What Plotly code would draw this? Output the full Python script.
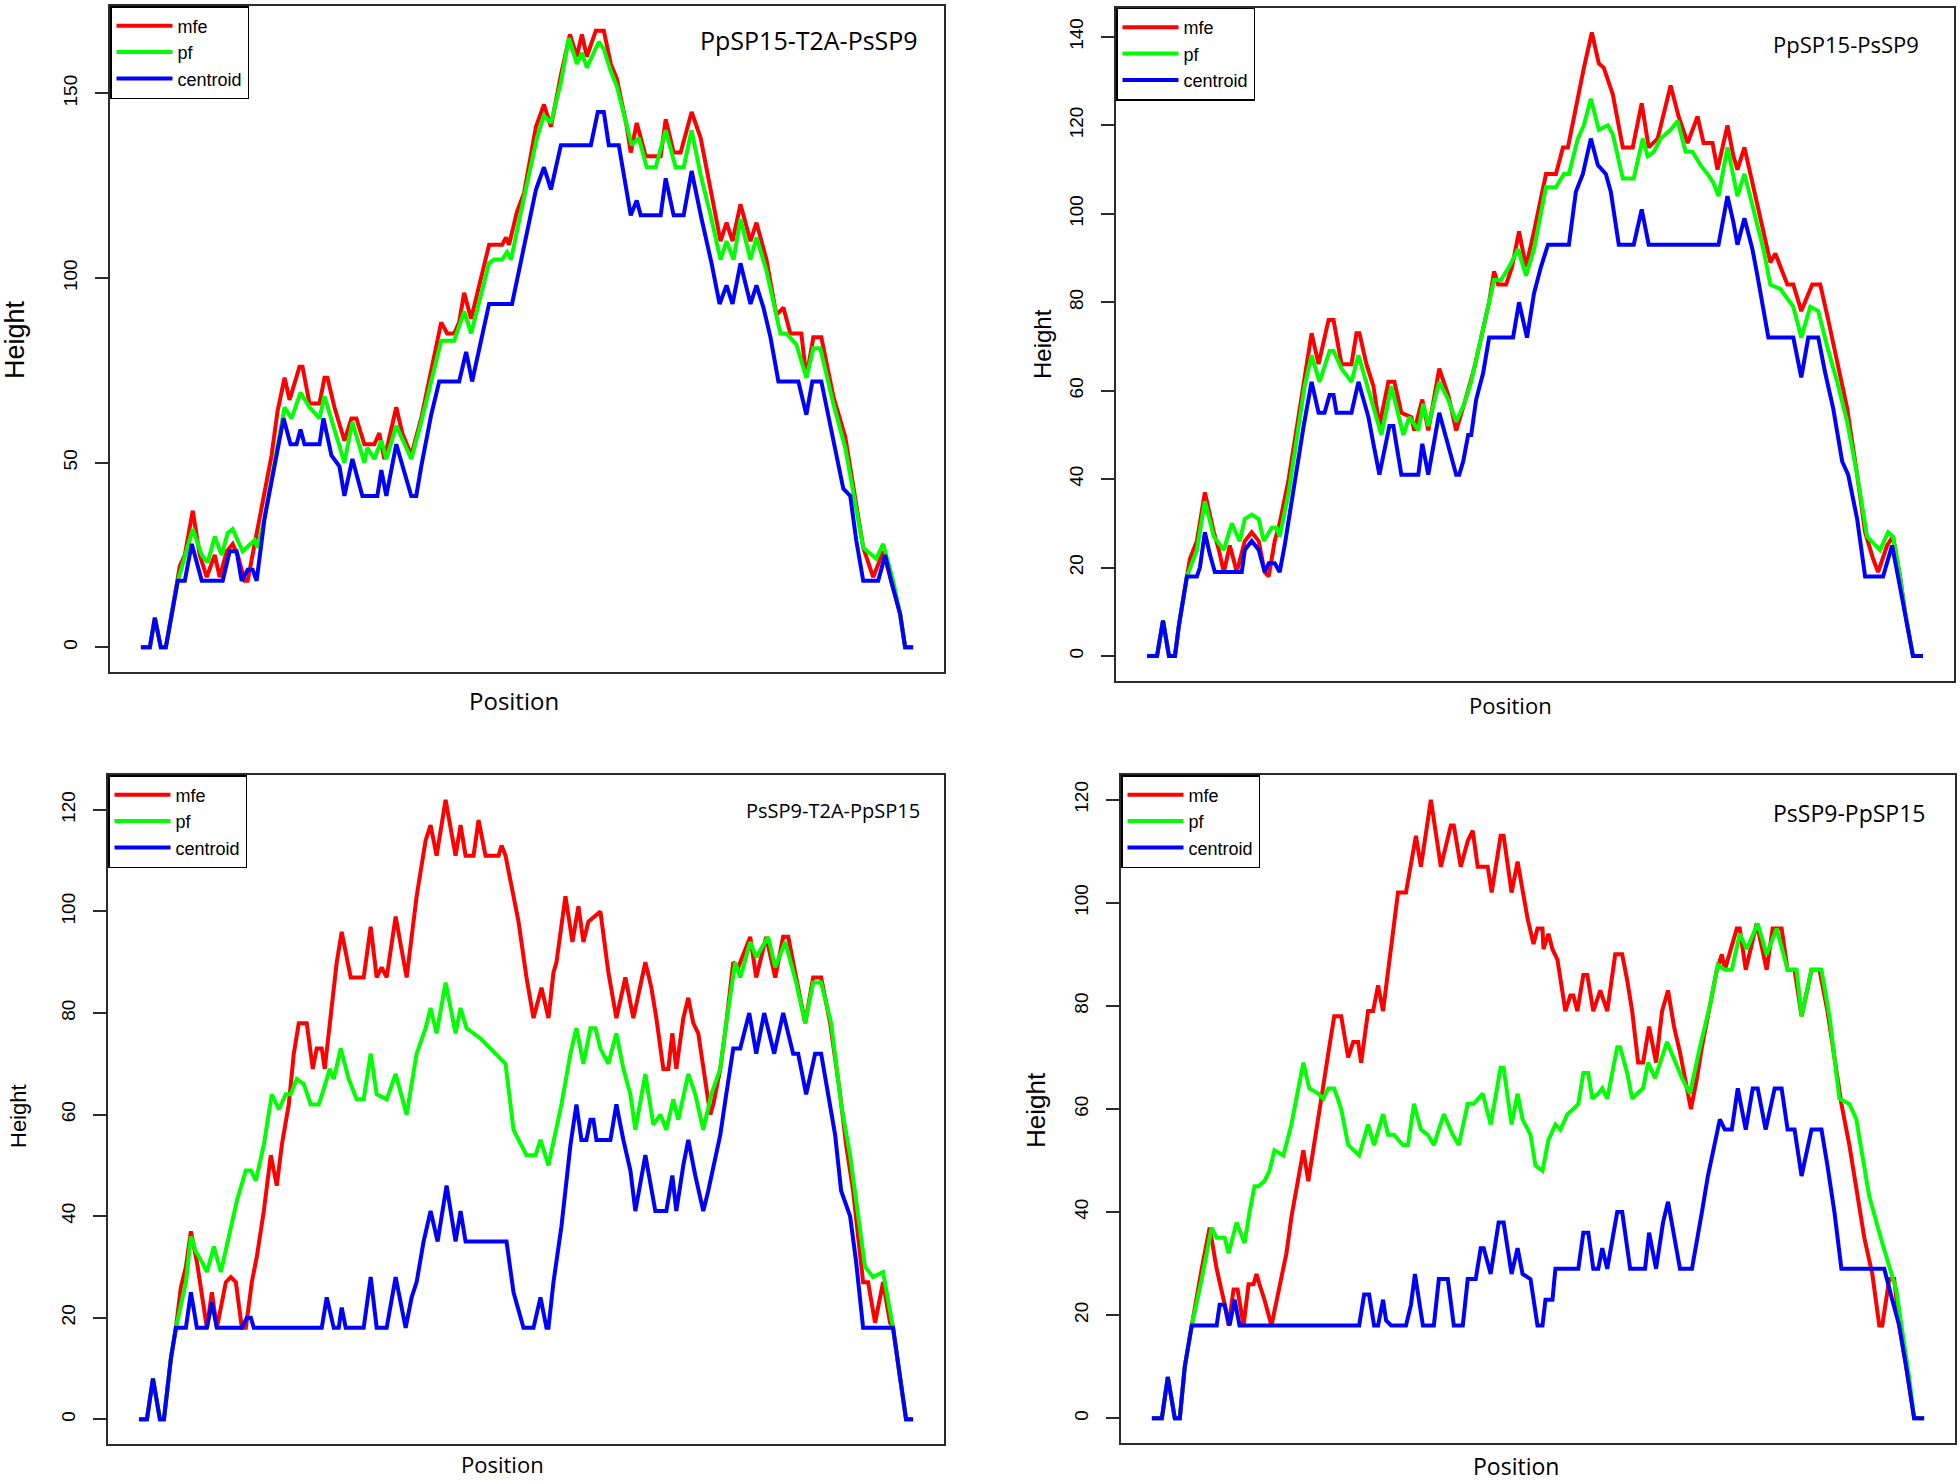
import plotly.graph_objects as go

# ---------------- data (position, height) ----------------
series_names = ["mfe", "pf", "centroid"]
series_colors = ["#ff0000", "#00ff00", "#0000ff"]

panel_titles = ["PpSP15-T2A-PsSP9", "PpSP15-PsSP9", "PsSP9-T2A-PpSP15", "PsSP9-PpSP15"]

p1_mfe = [(0,0),(9,0),(14,8),(20,0),(25,0),(37,18),(39,22),(44,25),(52,37),(59,25),(66,19),(74,25),(79,19),(86,26),(92,28),(97,25),(104,18),(107,18),(112,25),(121,37),(131,52),(137,64),(144,73),(149,67),(159,76),(162,76),(169,66),(179,66),(184,73),(187,73),(194,65),(204,56),(211,62),(216,62),(224,55),(234,55),(239,58),(244,51),(256,65),(262,58),(271,52),(281,62),(291,75),(301,88),(307,85),(314,85),(319,88),(324,96),(331,89),(341,100),(349,109),(362,109),(366,111),(369,109),(377,118),(384,123),(396,141),(404,147),(411,141),(421,155),(430,166),(437,160),(442,166),(447,160),(456,167),(464,167),(471,158),(477,154),(487,141),(491,134),(497,142),(506,133),(521,133),(526,143),(534,134),(541,134),(552,145),(561,138),(571,124),(581,110),(587,115),(593,110),(601,120),(611,110),(617,115),(627,105),(637,90),(644,92),(651,85),(662,85),(667,73),(674,84),(682,84),(694,68),(706,57),(714,44),(724,27),(734,19),(744,26),(752,18),(761,9),(766,0),(774,0)]
p1_pf = [(0,0),(9,0),(14,8),(20,0),(25,0),(37,18),(52,32),(61,25),(67,23),(74,30),(81,25),(87,31),(92,32),(102,26),(114,29),(117,27),(124,35),(134,50),(144,65),(151,62),(160,69),(169,65),(179,62),(184,68),(194,59),(204,50),(212,61),(224,50),(227,54),(234,51),(241,56),(246,51),(256,60),(264,55),(271,51),(281,61),(291,72),(301,83),(314,83),(324,91),(331,85),(341,95),(349,104),(354,105),(362,105),(367,107),(371,105),(381,118),(391,131),(397,138),(404,144),(411,142),(421,153),(429,165),(437,158),(442,161),(447,157),(459,164),(464,162),(471,156),(477,152),(487,141),(492,136),(499,138),(507,130),(516,130),(526,140),(536,130),(544,130),(552,140),(561,128),(571,117),(581,105),(587,110),(594,105),(601,116),(611,105),(617,111),(627,102),(641,85),(647,85),(657,82),(667,73),(674,81),(681,81),(694,66),(706,54),(714,42),(724,27),(737,24),(744,28),(754,18),(761,9),(766,0),(774,0)]
p1_centroid = [(0,0),(9,0),(14,8),(20,0),(25,0),(37,18),(44,18),(51,28),(61,18),(82,18),(89,26),(96,26),(101,18),(107,21),(112,21),(116,18),(124,35),(134,49),(143,62),(150,55),(156,55),(160,59),(164,55),(179,55),(183,62),(191,52),(199,49),(204,41),(212,51),(222,41),(237,41),(241,48),(246,41),(256,55),(262,49),(271,41),(276,41),(281,49),(291,63),(299,72),(319,72),(326,80),(332,72),(341,83),(349,93),(372,93),(381,105),(391,117),(396,124),(404,130),(411,124),(421,136),(451,136),(458,145),(464,145),(469,136),(479,136),(491,117),(497,121),(501,117),(521,117),(526,127),(534,117),(544,117),(552,129),(562,116),(572,104),(580,93),(587,98),(593,93),(601,104),(611,93),(617,98),(624,92),(631,84),(639,72),(659,72),(667,63),(673,72),(682,72),(694,56),(704,43),(711,41),(717,29),(724,18),(739,18),(746,25),(752,18),(761,9),(766,0),(774,0)]

p2_mfe = [(0,0),(10,0),(16,8),(22,0),(28,0),(32,7),(40,18),(43,22),(50,26),(58,37),(67,28),(72,24),(77,19),(83,25),(90,19),(98,26),(105,28),(112,26),(118,19),(122,18),(128,26),(133,30),(142,40),(152,55),(158,63),(165,73),(172,66),(182,76),(187,76),(195,66),(205,66),(210,73),(213,73),(220,66),(227,61),(233,52),(242,62),(248,62),(255,55),(265,54),(268,51),(276,58),(282,51),(293,65),(302,59),(310,51),(318,57),(328,65),(337,74),(343,80),(348,87),(352,84),(360,84),(366,88),(373,96),(380,88),(388,96),(400,109),(410,109),(417,115),(422,115),(432,127),(438,133),(446,141),(453,134),(458,133),(467,127),(477,115),(487,115),(496,125),(503,115),(512,117),(525,129),(533,122),(542,116),(552,122),(558,116),(567,116),(572,110),(582,120),(588,113),(592,110),(599,115),(608,106),(618,96),(625,89),(630,91),(637,87),(642,84),(648,84),(656,78),(667,84),(675,84),(683,76),(692,67),(702,56),(712,41),(720,28),(728,22),(733,19),(742,25),(748,27),(755,18),(760,10),(768,0),(778,0)]
p2_pf = [(0,0),(10,0),(16,8),(22,0),(28,0),(32,7),(40,18),(50,24),(58,35),(67,27),(77,24),(85,30),(93,26),(98,31),(105,32),(112,31),(117,26),(125,29),(130,29),(133,27),(142,37),(152,52),(158,61),(165,68),(173,62),(183,69),(187,69),(195,65),(205,62),(212,68),(220,62),(228,56),(235,50),(245,61),(257,50),(263,54),(272,51),(277,57),(282,52),(293,62),(302,58),(310,53),(318,57),(325,62),(338,75),(348,85),(355,85),(363,88),(372,92),(380,86),(388,92),(400,106),(410,106),(418,109),(423,109),(432,117),(438,120),(445,126),(453,119),(462,120),(467,118),(477,108),(488,108),(497,117),(502,113),(508,114),(515,117),(525,119),(532,121),(540,114),(547,114),(555,111),(562,109),(568,107),(573,104),(582,115),(592,104),(599,109),(608,101),(618,92),(625,84),(635,83),(648,79),(656,72),(665,79),(673,78),(682,70),(692,62),(702,53),(712,41),(722,27),(735,24),(743,28),(748,27),(755,18),(760,10),(768,0),(778,0)]
p2_centroid = [(0,0),(10,0),(16,8),(22,0),(28,0),(32,7),(40,18),(50,18),(53,20),(58,28),(63,23),(68,19),(95,19),(98,24),(105,26),(112,24),(118,19),(122,21),(128,21),(133,19),(138,25),(147,38),(157,52),(165,62),(172,55),(178,55),(183,59),(187,59),(190,55),(205,55),(212,62),(217,58),(222,54),(227,48),(233,41),(243,52),(247,52),(255,41),(272,41),(276,48),(282,41),(293,55),(302,48),(310,41),(313,41),(317,44),(322,50),(325,50),(330,58),(337,64),(343,72),(367,72),(373,80),(381,72),(388,82),(395,88),(402,93),(423,93),(430,105),(437,109),(445,117),(452,111),(460,109),(465,105),(473,93),(488,93),(496,101),(503,93),(573,93),(582,104),(588,98),(592,93),(599,99),(607,92),(612,86),(617,80),(623,72),(648,72),(656,63),(663,72),(673,72),(680,64),(688,56),(697,44),(703,41),(712,31),(720,18),(738,18),(747,25),(753,18),(760,10),(768,0),(778,0)]

p3_mfe = [(0,0),(8,0),(14,8),(21,0),(25,0),(32,12),(37,18),(42,26),(47,30),(52,37),(58,31),(63,24),(68,18),(73,25),(78,18),(87,27),(92,28),(97,27),(103,18),(107,18),(113,27),(118,32),(125,41),(132,52),(138,46),(143,54),(150,62),(155,72),(160,78),(168,78),(174,69),(178,73),(183,73),(186,69),(192,79),(198,90),(203,96),(212,87),(225,87),(232,97),(238,87),(243,89),(248,87),(257,99),(268,87),(273,95),(278,103),(287,114),(292,117),(298,111),(307,122),(317,111),(322,117),(327,111),(335,111),(340,118),(347,111),(360,111),(363,113),(367,111),(375,103),(380,98),(388,87),(395,79),(403,85),(410,79),(415,88),(418,90),(427,103),(434,94),(440,101),(445,94),(450,98),(462,100),(470,88),(478,79),(487,87),(495,79),(507,90),(513,85),(518,79),(525,69),(530,69),(534,76),(538,69),(545,79),(550,83),(555,78),(560,76),(565,69),(572,60),(575,62),(582,69),(588,78),(595,90),(600,89),(612,95),(618,87),(628,95),(637,87),(645,95),(650,95),(658,87),(667,78),(675,87),(683,87),(692,78),(702,64),(708,54),(715,45),(725,27),(730,27),(737,19),(745,27),(752,19),(755,18),(762,8),(768,0),(775,0)]
p3_pf = [(0,0),(8,0),(14,8),(21,0),(25,0),(32,12),(37,18),(47,27),(52,36),(57,33),(63,31),(68,29),(75,34),(82,29),(90,36),(98,43),(107,49),(112,49),(117,47),(125,54),(133,64),(140,61),(147,64),(152,64),(158,67),(165,66),(172,62),(180,62),(185,65),(191,69),(195,67),(202,73),(210,67),(218,63),(225,63),(232,72),(238,64),(248,63),(257,68),(268,60),(273,66),(278,72),(287,77),(292,81),(298,76),(307,86),(317,76),(322,81),(328,77),(342,75),(352,73),(362,71),(367,70),(375,57),(380,55),(388,52),(397,52),(402,55),(410,50),(417,56),(423,62),(432,72),(438,77),(445,70),(452,77),(457,77),(462,73),(470,70),(478,76),(485,69),(492,64),(497,57),(507,68),(515,58),(522,60),(528,57),(535,63),(540,59),(545,64),(550,68),(557,64),(565,57),(573,64),(582,69),(588,78),(597,90),(602,87),(612,94),(618,91),(630,95),(637,89),(647,94),(658,86),(667,78),(675,86),(683,86),(693,78),(703,62),(712,52),(718,43),(727,30),(735,28),(745,29),(755,18),(762,8),(768,0),(775,0)]
p3_centroid = [(0,0),(8,0),(14,8),(21,0),(25,0),(32,12),(37,18),(47,18),(52,25),(58,18),(68,18),(73,23),(78,18),(103,18),(108,20),(112,20),(115,18),(183,18),(188,24),(195,18),(200,18),(203,22),(207,18),(225,18),(232,28),(238,18),(248,18),(257,28),(267,18),(273,24),(278,27),(285,35),(292,41),(299,35),(308,46),(317,35),(322,41),(327,35),(368,35),(375,25),(385,18),(395,18),(402,24),(408,18),(410,18),(415,27),(423,38),(432,54),(438,62),(443,55),(448,55),(452,59),(455,59),(458,55),(472,55),(478,62),(485,55),(492,49),(497,41),(507,52),(517,41),(528,41),(534,48),(538,41),(545,50),(550,55),(557,48),(565,41),(570,45),(575,50),(582,56),(588,64),(595,73),(602,73),(611,80),(618,72),(626,80),(636,72),(645,80),(655,72),(660,72),(668,64),(677,72),(683,72),(690,64),(697,56),(703,45),(712,40),(718,31),(725,18),(755,18),(762,8),(768,0),(775,0)]

p4_mfe = [(0,0),(10,0),(16,8),(23,0),(28,0),(33,10),(40,18),(45,24),(50,29),(58,37),(65,29),(72,23),(77,18),(82,25),(86,25),(92,18),(97,26),(102,26),(105,28),(108,26),(113,23),(120,18),(123,21),(130,27),(135,32),(140,39),(147,47),(152,52),(157,46),(163,53),(170,62),(178,72),(183,78),(190,78),(197,70),(202,73),(207,73),(210,69),(217,79),(222,79),(227,84),(232,79),(240,92),(247,102),(255,102),(260,107),(265,113),(270,107),(280,120),(290,107),(300,115),(303,115),(310,107),(317,112),(322,114),(327,107),(337,107),(341,102),(350,113),(353,113),(361,102),(367,108),(372,102),(377,97),(383,92),(387,95),(392,95),(393,91),(398,94),(402,91),(407,89),(412,83),(415,79),(420,82),(423,82),(427,79),(433,86),(437,86),(443,79),(450,83),(457,79),(465,90),(472,90),(477,85),(482,79),(488,69),(493,69),(499,76),(506,69),(512,79),(518,83),(524,76),(530,71),(537,64),(541,60),(547,66),(552,72),(560,80),(567,87),(572,90),(575,87),(587,95),(590,95),(596,87),(607,96),(617,87),(623,95),(632,95),(638,87),(645,87),(652,78),(662,87),(670,87),(678,79),(685,70),(692,61),(700,53),(707,45),(715,35),(723,28),(730,18),(733,18),(740,27),(745,27),(750,18),(757,10),(765,0),(775,0)]
p4_pf = [(0,0),(10,0),(16,8),(23,0),(28,0),(33,10),(40,18),(50,27),(60,37),(65,35),(73,35),(77,32),(85,38),(93,34),(98,40),(103,45),(107,45),(113,46),(118,48),(123,52),(132,51),(140,57),(147,64),(152,69),(158,64),(167,63),(172,62),(177,64),(183,64),(190,60),(197,53),(203,52),(208,51),(217,57),(223,53),(232,59),(237,55),(243,55),(252,53),(257,53),(263,61),(270,56),(277,55),(283,53),(293,59),(302,55),(308,53),(317,61),(323,61),(332,63),(340,57),(350,68),(353,68),(361,57),(367,63),(372,58),(380,55),(385,49),(392,48),(398,54),(405,57),(410,56),(417,59),(423,60),(428,61),(433,67),(438,67),(442,62),(448,63),(452,64),(457,62),(467,72),(470,72),(477,67),(482,62),(487,63),(493,64),(498,69),(505,66),(517,73),(523,70),(532,66),(540,63),(550,72),(560,80),(568,88),(575,87),(582,87),(590,94),(597,91),(608,96),(617,90),(627,95),(638,87),(647,87),(652,78),(662,87),(672,87),(680,78),(690,62),(700,61),(707,58),(713,51),(720,43),(733,34),(747,25),(753,17),(760,8),(765,0),(775,0)]
p4_centroid = [(0,0),(10,0),(16,8),(23,0),(28,0),(33,10),(40,18),(65,18),(68,22),(73,22),(78,18),(83,23),(88,18),(208,18),(213,24),(218,24),(223,18),(227,18),(232,23),(235,19),(240,18),(255,18),(260,22),(264,28),(272,18),(283,18),(288,27),(297,27),(303,18),(312,18),(317,27),(325,27),(330,33),(333,33),(340,28),(348,38),(353,38),(361,28),(367,33),(372,28),(380,27),(387,18),(392,18),(395,23),(402,23),(405,29),(428,29),(433,36),(438,36),(443,29),(448,29),(452,33),(457,29),(467,40),(472,40),(480,29),(495,29),(499,36),(506,29),(513,38),(518,42),(524,35),(530,29),(542,29),(547,34),(552,40),(558,47),(565,54),(570,58),(575,56),(582,56),(588,64),(596,56),(603,64),(608,64),(616,56),(625,64),(632,64),(638,56),(645,56),(652,47),(662,56),(672,56),(678,49),(685,40),(692,29),(735,29),(743,23),(750,18),(757,10),(765,0),(775,0)]

y_tick_values = [[0, 50, 100, 150], [0, 20, 40, 60, 80, 100, 120, 140],
                 [0, 20, 40, 60, 80, 100, 120], [0, 20, 40, 60, 80, 100, 120]]

# ---------------- layout geometry (figure pixels) ----------------
W, H = 1960, 1481
panels = [
    dict(data=[p1_mfe, p1_pf, p1_centroid], box=(110, 944, 6, 672),
         title_xy=(809, 40), title_size=25, ylab_xy=(15, 340), ylab_size=27,
         xlab_xy=(514, 700), xlab_size=24),
    dict(data=[p2_mfe, p2_pf, p2_centroid], box=(1116, 1954, 7.5, 681),
         title_xy=(1846, 44), title_size=22, ylab_xy=(1042, 344), ylab_size=24,
         xlab_xy=(1510, 705), xlab_size=22),
    dict(data=[p3_mfe, p3_pf, p3_centroid], box=(108, 944, 775, 1444),
         title_xy=(833, 810), title_size=20, ylab_xy=(18, 1116), ylab_size=22,
         xlab_xy=(502, 1464), xlab_size=22),
    dict(data=[p4_mfe, p4_pf, p4_centroid], box=(1121, 1955, 775, 1443),
         title_xy=(1849, 813), title_size=23, ylab_xy=(1036, 1110), ylab_size=26,
         xlab_xy=(1516, 1466), xlab_size=23),
]

fig = go.Figure()
annotations = []
line_col = "#2b2b2b"
tick_font = dict(family="Liberation Sans, Arial, sans-serif", size=19, color="black")

for i, pnl in enumerate(panels):
    k = "" if i == 0 else str(i + 1)
    xa, ya = "x" + k, "y" + k
    leg = "legend" + k
    for name, color, series in zip(series_names, series_colors, pnl["data"]):
        xs = [p for p, h in series]
        ys = [h for p, h in series]
        fig.add_trace(go.Scatter(x=xs, y=ys, mode="lines", name=name,
                                 line=dict(color=color, width=4),
                                 xaxis=xa, yaxis=ya, legend=leg))
    x0, x1, y0, y1 = pnl["box"]
    all_pos = [p for s in pnl["data"] for p, h in s]
    all_h = [h for s in pnl["data"] for p, h in s]
    xmin, xmax = min(all_pos), max(all_pos)
    hmin, hmax = min(all_h), max(all_h)
    xr = [xmin - 0.04 * (xmax - xmin), xmax + 0.04 * (xmax - xmin)]
    yr = [hmin - 0.04 * (hmax - hmin), hmax + 0.04 * (hmax - hmin)]
    common = dict(showgrid=False, zeroline=False, showline=True, mirror=True,
                  linecolor=line_col, linewidth=1.5, automargin=False)
    fig.update_layout(**{
        "xaxis" + k: dict(domain=[x0 / W, x1 / W], range=xr, showticklabels=False,
                          ticks="", anchor=ya, **common),
        "yaxis" + k: dict(domain=[1 - y1 / H, 1 - y0 / H], range=yr, anchor=xa,
                          tickmode="array", tickvals=y_tick_values[i],
                          ticks="outside", ticklen=13, tickwidth=1.5, tickcolor=line_col,
                          tickangle=-90, tickfont=tick_font, ticklabelstandoff=11,
                          **common),
        leg: dict(x=x0 / W, y=1 - y0 / H, xanchor="left", yanchor="top",
                  xref="paper", yref="paper",
                  bgcolor="white", bordercolor="black", borderwidth=1.5,
                  font=dict(family="Liberation Sans, Arial, sans-serif", size=18, color="black"),
                  itemwidth=56, tracegroupgap=0),
    })
    tx, ty = pnl["title_xy"]
    annotations.append(dict(text=panel_titles[i], x=tx / W, y=1 - ty / H, xref="paper", yref="paper",
                            showarrow=False, xanchor="center", yanchor="middle",
                            font=dict(family="Open Sans, Noto Sans, sans-serif", size=pnl["title_size"], color="black")))
    lx, ly = pnl["ylab_xy"]
    annotations.append(dict(text="Height", x=lx / W, y=1 - ly / H, xref="paper", yref="paper",
                            showarrow=False, textangle=-90, xanchor="center", yanchor="middle",
                            font=dict(family="Liberation Sans, Arial, sans-serif", size=pnl["ylab_size"], color="black")))
    px, py = pnl["xlab_xy"]
    annotations.append(dict(text="Position", x=px / W, y=1 - py / H, xref="paper", yref="paper",
                            showarrow=False, xanchor="center", yanchor="middle",
                            font=dict(family="Open Sans, Noto Sans, sans-serif", size=pnl["xlab_size"], color="black")))

fig.update_layout(width=W, height=H, margin=dict(l=0, r=0, t=0, b=0),
                  plot_bgcolor="white", paper_bgcolor="white",
                  annotations=annotations, showlegend=True)

fig.write_html("out.html", config={"displayModeBar": False},
               post_script="document.body.style.margin='0px';document.body.style.overflow='hidden';")
